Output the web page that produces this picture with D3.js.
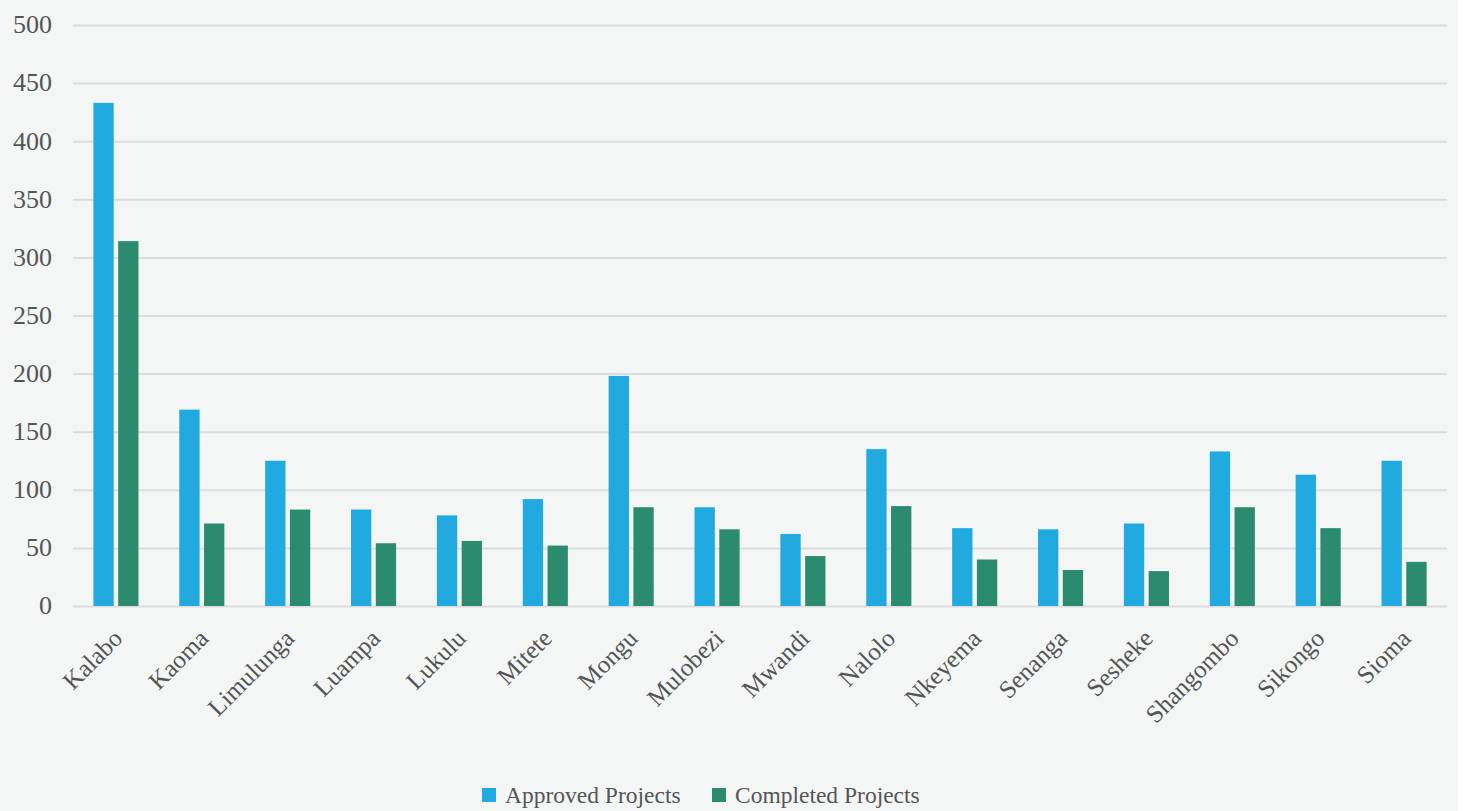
<!DOCTYPE html>
<html><head><meta charset="utf-8">
<script src="https://cdn.jsdelivr.net/npm/d3@7"></script>
<style>body{margin:0;background:#fff;}svg{display:block;}</style>
</head><body>
<script>
const categories = ["Kalabo","Kaoma","Limulunga","Luampa","Lukulu","Mitete","Mongu","Mulobezi","Mwandi","Nalolo","Nkeyema","Senanga","Sesheke","Shangombo","Sikongo","Sioma"];
const approved = [433,169,125,83,78,92,198,85,62,135,67,66,71,133,113,125];
const completed = [314,71,83,54,56,52,85,66,43,86,40,31,30,85,67,38];
const seriesNames = ["Approved Projects","Completed Projects"];
const colors = ["#20aae0","#2a8b6f"];
const yTicks = [0,50,100,150,200,250,300,350,400,450,500];

const W = 1469, H = 811;
const m = {left:73, right:22, top:25, bottom:205};
const svg = d3.select("body").append("svg").attr("width",W).attr("height",H);
svg.append("rect").attr("x",0).attr("y",0).attr("width",1458).attr("height",H).attr("fill","#f4f6f5");

const x0 = d3.scaleBand().domain(categories).range([m.left, W-m.right]).paddingInner(0.475).paddingOuter(0.2375);
const x1 = d3.scaleBand().domain(seriesNames).range([0, x0.bandwidth()]).paddingInner(0.18);
const y = d3.scaleLinear().domain([0,500]).range([H-m.bottom, m.top]);

const font = "'Liberation Serif','Times New Roman',serif";
const g = svg.append("g");
const yAxis = d3.axisLeft(y).tickValues(yTicks).tickSize(-(W-m.right-m.left)).tickPadding(21);
const ya = g.append("g").attr("transform",`translate(${m.left},0)`).call(yAxis);
ya.select(".domain").remove();
ya.selectAll("line").attr("stroke","#dcdcdc").attr("stroke-width",2);
ya.selectAll("text").attr("font-family",font).attr("font-size",26).attr("fill","#555555").attr("dy","0.3em");

const data = categories.map((c,i)=>({cat:c, vals:[approved[i],completed[i]]}));
const grp = g.selectAll("g.grp").data(data).join("g").attr("class","grp").attr("transform",d=>`translate(${x0(d.cat)},0)`);
grp.selectAll("rect").data(d=>d.vals.map((v,j)=>({v,j}))).join("rect")
  .attr("x",d=>x1(seriesNames[d.j])).attr("width",x1.bandwidth())
  .attr("y",d=>y(d.v)).attr("height",d=>y(0)-y(d.v)).attr("fill",d=>colors[d.j]);

const xAxis = d3.axisBottom(x0).tickSize(0).tickPadding(0);
const xa = g.append("g").attr("transform",`translate(0,${y(0)})`).call(xAxis);
xa.select(".domain").remove();
xa.selectAll("text").attr("font-family",font).attr("font-size",25).attr("fill","#555555")
  .attr("text-anchor","end").attr("dy",0).attr("transform","translate(8,34) rotate(-45)");

const leg = svg.append("g");
const legX = [482, 712];
seriesNames.forEach((s,i)=>{
  leg.append("rect").attr("x",legX[i]).attr("y",788).attr("width",14).attr("height",14).attr("fill",colors[i]);
  leg.append("text").attr("x",legX[i]+23).attr("y",803).attr("font-family",font).attr("font-size",23.5).attr("fill","#555555").text(s);
});
</script>
</body></html>
